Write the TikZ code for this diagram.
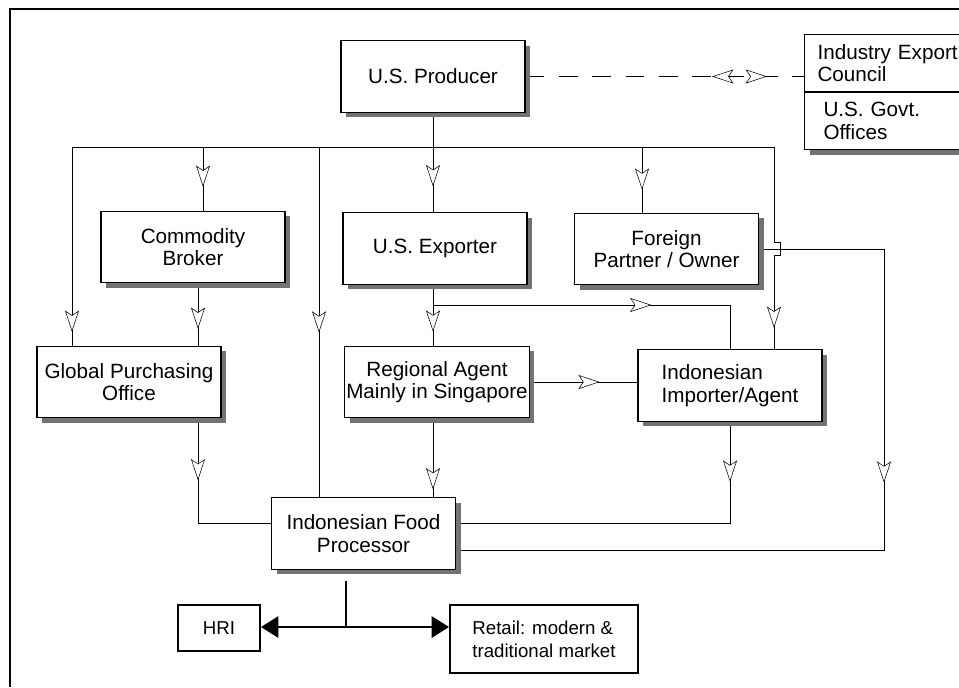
\documentclass[tikz,border=0pt]{standalone}
\usepackage{fontspec}
\setmainfont{Liberation Sans}
\usetikzlibrary{arrows.meta,shadows,decorations.markings,backgrounds}

\tikzset{
  hollow/.tip={Stealth[length=16pt,width=10.5pt,inset=3.5pt,fill=white]},
  box/.style={draw, fill=white, line width=0.8pt, minimum width=138pt, minimum height=53.5pt,
    inner sep=1pt, align=center, font=\fontsize{15.5}{17}\selectfont,
    drop shadow={shadow xshift=3.75pt, shadow yshift=-3.75pt, fill=black!55, opacity=1}},
  outlet/.style={draw, fill=white, line width=1.5pt, inner sep=1pt, align=left,
    font=\fontsize{14}{17}\selectfont},
  flow/.style={postaction={decorate, decoration={markings,
    mark=at position #1 with {\arrow{hollow}}}}},
}

\begin{document}
\begin{tikzpicture}[x=0.75pt, y=-0.75pt, line width=0.8pt]
\useasboundingbox (0,0) rectangle (959,687);
\draw[line width=1.8pt] (10,687) -- (10,9) -- (959,9);

\node[box] (producer) at (433,76.5) {U.S. Producer};
\node[box] (broker) at (193,247) {Commodity\\Broker};
\node[box] (exporter) at (435,248.5) {U.S. Exporter};
\node[box] (partner) at (666.5,249) {Foreign\\Partner / Owner};
\node[box] (globalpo) at (129,382) {Global Purchasing\\Office};
\node[box] (regional) at (437,382) {Regional Agent\\Mainly in Singapore};
\node[box, align=left] (importer) at (730,385.5) {Indonesian\\Importer/Agent};
\node[box] (processor) at (363.5,533.5) {Indonesian Food\\Processor};
\node[outlet, minimum width=61.5pt, minimum height=34.5pt] (hri) at (219,628) {HRI};
\node[outlet, minimum width=141pt, minimum height=51pt] (retail) at (544,639)
  {Retail: modern \&\\traditional market};

\begin{scope}
  \clip (0,0) rectangle (959,687);
  \node[box, anchor=north west, minimum width=128pt, minimum height=42.75pt,
    text width=108.5pt, inner xsep=9.75pt, align=left] (council) at (804,34)
    {Industry Export\\Council};
  \node[box, anchor=north west, minimum width=128pt, minimum height=42.75pt,
    text width=99.5pt, inner xsep=14.25pt, align=left] (govt) at (council.south west)
    {U.S. Govt.\\Offices};
\end{scope}

\begin{scope}[on background layer]
  \coordinate (busL) at (72,147);
  \coordinate (busR) at (774,147);
  \coordinate (dropB) at (203,147);
  \coordinate (dropF) at (319,147);
  \coordinate (dropP) at (642,147);
  \coordinate (dropG) at (198,523);
  \coordinate (dropI) at (731,523);
  \coordinate (branch) at (433,305);
  \coordinate (loopR) at (884,550);
  \coordinate (stem) at (346,581);
  \coordinate (split) at (346,627);

  \draw (busL) -- (busR);
  \draw[flow=0.93] (busL) -- (busL |- globalpo.north);
  \draw[flow=0.625] (dropB) -- (dropB |- broker.north);
  \draw[flow=0.53] (dropF) -- (dropF |- processor.north);
  \draw[flow=0.65] (dropP) -- (dropP |- partner.north);
  \draw[flow=0.90] (busR) -- ++(0,95) -- ++(6,0) -- ++(0,13) -- ++(-6,0)
    -- (busR |- importer.north);

  \draw[flow=0.74] (producer.south) -- (producer.south |- exporter.north);
  \draw[flow=0.77] (branch |- exporter.south) -- (branch |- regional.north);
  \draw[flow=0.64] (branch) -- (branch -| importer.north) -- (importer.north);
  \draw[flow=0.65] (regional.east) -- (regional.east -| importer.west);
  \draw[flow=0.73] (dropG |- broker.south) -- (dropG |- globalpo.north);

  \draw[flow=0.35] (dropG |- globalpo.south) -- (dropG) -- (dropG -| processor.west);
  \draw[flow=0.9] (branch |- regional.south) -- (branch |- processor.north);
  \draw[flow=0.16] (importer.south) -- (importer.south |- dropI) -- (dropI -| processor.east);
  \draw[flow=0.42] (partner.east) -- (partner.east -| loopR) -- (loopR)
    -- (loopR -| processor.east);

  \draw[dash pattern=on 14pt off 11pt, postaction={decorate, decoration={markings,
      mark=at position 0.67 with {\arrowreversed{hollow}},
      mark=at position 0.867 with {\arrow{hollow}}}}]
    (producer.east) -- (producer.east -| council.west);

  \draw[line width=1.5pt] (stem) -- (split);
  \draw[line width=1.5pt, -{Triangle[length=13pt,width=16pt]}] (split) -- (split -| hri.east);
  \draw[line width=1.5pt, -{Triangle[length=13pt,width=16pt]}] (split) -- (split -| retail.west);
\end{scope}
\end{tikzpicture}
\end{document}
